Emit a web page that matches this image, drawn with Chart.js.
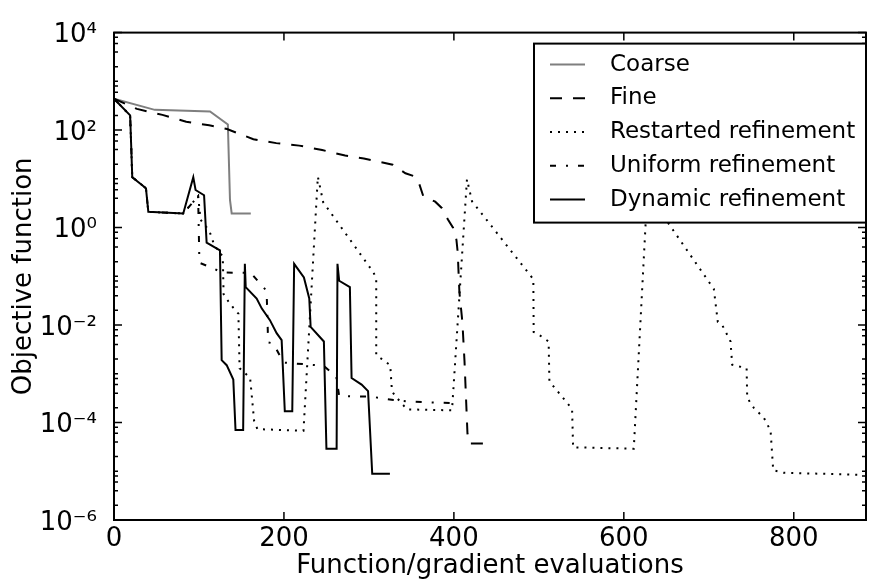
<!DOCTYPE html>
<html>
<head>
<meta charset="utf-8">
<script src="https://cdn.jsdelivr.net/npm/chart.js@4.4.0/dist/chart.umd.min.js"></script>
<style>
  html, body { margin: 0; padding: 0; background: #fff; }
</style>
</head>
<body>
<canvas id="chart" width="869" height="582"></canvas>
<script>
// objective value vs. function/gradient evaluations, one pair of arrays per run
const coarseX = [0, 48, 113, 134, 136.5, 138.5, 161];
const coarseY = [440, 260, 240, 130, 3.7, 1.95, 1.95];

const fineX = [0, 27, 57, 85, 112, 133, 164, 191, 218, 245, 272, 294, 328, 343, 354.5, 359, 364, 378, 386, 393, 399, 403, 404.5, 406.5, 410, 412.5, 416, 418, 435];
const fineY = [440, 272, 205, 148, 125, 105, 65, 54, 48, 39, 30, 26, 19.5, 13, 11.1, 8.1, 4.4, 3.4, 2.5, 1.46, 0.99, 0.56, 0.31, 0.047, 0.0116, 0.0018, 5.9e-5, 3.7e-5, 3.7e-5];

const restartX = [0, 19, 21.5, 37.6, 40.4, 81.5, 99, 101.9, 112.3, 118.1, 128, 129, 134.6, 140.5, 146.4, 147.8, 154.3, 160.2, 164.9, 168.8, 223,
  239.9, 246.2, 305.4, 308.6, 308.6, 317.2, 325.1, 327.1, 331, 344.8, 397.8,
  415.4, 421.3, 493.5, 493.9, 497.9, 511.5, 512.4, 539.1, 540.3, 611.7,
  628.4, 634.3, 705.9, 710.6, 715.8, 725.6, 727.5, 744.5, 745.2, 753, 764.8, 772.7, 775.8, 788.3, 874.8];
const restartY = [440, 200, 10.8, 6.4, 2.1, 1.94, 4.4, 1.44, 0.85, 0.43, 0.255, 0.043, 0.0306, 0.0224, 0.0171, 0.0013, 0.00103, 8.2e-4, 1.08e-4, 7.3e-5, 6.8e-5,
  11.1, 3.3, 0.12, 0.088, 0.0024, 0.0019, 0.0015, 4.4e-4, 3.5e-4, 1.86e-4, 1.78e-4,
  9.8, 3.46, 0.087, 0.0072, 0.0067, 0.0046, 7e-4, 1.9e-4, 3.1e-5, 2.9e-5,
  9.8, 3.5, 0.055, 0.0116, 0.01, 0.0046, 0.00153, 0.0013, 3.2e-4, 2e-4, 1.25e-4, 6.8e-5, 1.05e-5, 9.3e-6, 8.5e-6];

const uniformX = [0, 19, 21.5, 37.6, 40.4, 81.5, 99, 100.5, 115, 127, 161, 179.6, 181.4, 187.6, 199.4, 246.5, 261.5, 265, 302.3, 329, 345, 395.8];
const uniformY = [440, 200, 10.8, 6.4, 2.1, 1.94, 4.4, 0.19, 0.15, 0.12, 0.117, 0.05, 0.0044, 0.0042, 0.0017, 0.00146, 8.9e-4, 3.5e-4, 3.4e-4, 2.9e-4, 2.7e-4, 2.5e-4];

const dynamicX = [0, 19, 21.5, 37.6, 40.4, 81.5, 93.3, 96, 106, 109, 124.7, 126.7, 132.6, 140.4, 143, 152, 154, 155, 167.9, 173.8,
  183.5, 191.4, 197.3, 201, 209.8, 212, 223.5, 229.8, 231.4, 247, 250, 262, 263, 265, 277.6, 279.6, 291.4, 299, 303.9, 324.7];
const dynamicY = [440, 200, 10.8, 6.4, 2.1, 1.94, 10.8, 5.9, 4.6, 0.49, 0.34, 0.0019, 0.0015, 7.6e-4, 7e-5, 7e-5, 0.18, 0.06, 0.035, 0.022,
  0.0126, 0.0068, 0.0049, 1.7e-4, 1.7e-4, 0.18, 0.095, 0.035, 0.0092, 0.0046, 2.9e-5, 2.9e-5, 0.18, 0.081, 0.06, 8.2e-4, 6e-4, 4.4e-4, 8.9e-6, 8.9e-6];

const xTicks = [0, 200, 400, 600, 800];
const yTicks = [1e-6, 1e-4, 1e-2, 1, 1e2, 1e4];
const yTickLabels = ["10\u207B\u2076", "10\u207B\u2074", "10\u207B\u00B2", "10\u2070", "10\u00B2", "10\u2074"];
const yMinorSubs = [2, 4, 6, 8, 10];

function pts(xs, ys) {
  return xs.map((x, i) => ({ x: x, y: ys[i] }));
}

const FONT = "'DejaVu Sans', sans-serif";

// box around the axes, inward ticks on every side, like matplotlib
const axesFrame = {
  id: "axesFrame",
  afterDatasetsDraw(chart) {
    const { ctx, chartArea: a, scales } = chart;
    const x = scales.x, y = scales.y;
    ctx.save();
    ctx.strokeStyle = "#000";
    ctx.lineWidth = 1.5;
    ctx.beginPath();
    xTicks.forEach((v) => {
      const px = x.getPixelForValue(v);
      ctx.moveTo(px, a.bottom); ctx.lineTo(px, a.bottom - 8);
      ctx.moveTo(px, a.top); ctx.lineTo(px, a.top + 8);
    });
    yTicks.forEach((v) => {
      const py = y.getPixelForValue(v);
      ctx.moveTo(a.left, py); ctx.lineTo(a.left + 8, py);
      ctx.moveTo(a.right, py); ctx.lineTo(a.right - 8, py);
      yMinorSubs.forEach((m) => {
        const val = v * m;
        if (val >= y.max) return;
        const pm = y.getPixelForValue(val);
        ctx.moveTo(a.left, pm); ctx.lineTo(a.left + 4, pm);
        ctx.moveTo(a.right, pm); ctx.lineTo(a.right - 4, pm);
        if (m === 10) return;
        const pn = y.getPixelForValue(val * 10);
        if (val * 10 >= y.max) return;
        ctx.moveTo(a.left, pn); ctx.lineTo(a.left + 4, pn);
        ctx.moveTo(a.right, pn); ctx.lineTo(a.right - 4, pn);
      });
    });
    ctx.stroke();
    ctx.lineWidth = 2;
    ctx.strokeRect(a.left, a.top, a.right - a.left, a.bottom - a.top);
    ctx.restore();
  }
};

// framed legend in the upper right corner, drawn over the lines
const boxedLegend = {
  id: "boxedLegend",
  afterDraw(chart) {
    const { ctx, chartArea: a } = chart;
    const w = 332, h = 179;
    const left = a.right - w, top = a.top + 11;
    ctx.save();
    ctx.fillStyle = "#fff";
    ctx.fillRect(left, top, w, h);
    ctx.strokeStyle = "#000";
    ctx.lineWidth = 2;
    ctx.strokeRect(left, top, w, h);
    ctx.font = "23px " + FONT;
    ctx.textBaseline = "middle";
    chart.data.datasets.forEach((ds, i) => {
      const yy = top + 21 + i * 33.75;
      ctx.strokeStyle = ds.borderColor;
      ctx.lineWidth = ds.borderWidth;
      ctx.setLineDash(ds.borderDash || []);
      ctx.beginPath();
      ctx.moveTo(left + 16, yy);
      ctx.lineTo(left + 51, yy);
      ctx.stroke();
      ctx.setLineDash([]);
      ctx.fillStyle = "#000";
      ctx.fillText(ds.label, left + 76, yy);
    });
    ctx.restore();
  }
};

function series(label, xs, ys, color, dash, order) {
  return {
    label: label,
    data: pts(xs, ys),
    borderColor: color,
    borderWidth: 2,
    borderDash: dash,
    pointRadius: 0,
    tension: 0,
    fill: false,
    order: order
  };
}

new Chart(document.getElementById("chart"), {
  type: "line",
  data: {
    datasets: [
      series("Coarse", coarseX, coarseY, "#7f7f7f", [], 5),
      series("Fine", fineX, fineY, "#000", [12, 11], 4),
      series("Restarted refinement", restartX, restartY, "#000", [2, 6], 3),
      series("Uniform refinement", uniformX, uniformY, "#000", [6, 10, 2, 10], 2),
      series("Dynamic refinement", dynamicX, dynamicY, "#000", [], 1)
    ]
  },
  options: {
    responsive: false,
    animation: false,
    layout: { padding: { left: 0, right: 3, top: 28, bottom: 0 } },
    plugins: {
      legend: { display: false },
      tooltip: { enabled: false }
    },
    scales: {
      x: {
        type: "linear",
        min: 0,
        max: 885,
        afterBuildTicks: (s) => { s.ticks = xTicks.map((v) => ({ value: v })); },
        afterFit: (s) => { s.height = 62; },
        grid: { display: false, drawTicks: false },
        border: { display: false },
        ticks: {
          color: "#000",
          font: { family: FONT, size: 26 },
          padding: 4,
          maxRotation: 0,
          autoSkip: false
        },
        title: {
          display: true,
          text: "Function/gradient evaluations",
          color: "#000",
          font: { family: FONT, size: 26 },
          padding: { top: 0, bottom: 0 }
        }
      },
      y: {
        type: "logarithmic",
        min: 1e-6,
        max: 1e4,
        afterBuildTicks: (s) => { s.ticks = yTicks.map((v) => ({ value: v })); },
        afterFit: (s) => { s.width = 114; },
        grid: { display: false, drawTicks: false },
        border: { display: false },
        ticks: {
          color: "#000",
          font: { family: FONT, size: 26 },
          padding: 17,
          labelOffset: 3,
          autoSkip: false,
          callback: (v, i) => yTickLabels[i]
        },
        title: {
          display: true,
          text: "Objective function",
          color: "#000",
          font: { family: FONT, size: 26 },
          padding: { top: 9, bottom: 0 }
        }
      }
    }
  },
  plugins: [axesFrame, boxedLegend]
});
</script>
</body>
</html>
